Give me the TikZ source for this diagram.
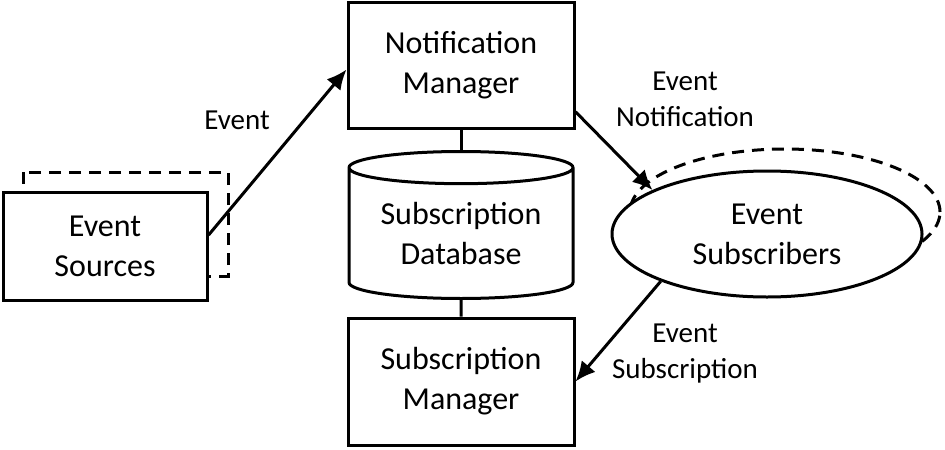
\documentclass[tikz,border=0pt]{standalone}
\usepackage{fontspec}
\setmainfont{Carlito}
\usetikzlibrary{shapes.geometric,arrows.meta,positioning}

\begin{document}
\begin{tikzpicture}
                    [x=0.5pt,y=-0.5pt,>={Latex[length=10pt,width=9pt]},
                    box/.style={draw,line width=1.5pt,fill=white,align=center,inner sep=0pt,
                                font=\fontsize{16}{20}\selectfont},
                    shadow/.style={draw,line width=1.5pt,dash pattern=on 6pt off 4pt},
                    msg/.style={align=center,font=\fontsize{14.5}{18}\selectfont},
                    flow/.style={line width=1.5pt,->}]

                    \useasboundingbox (0,0) rectangle (945,449);

                    % dashed copies behind the sources and subscribers
                    \draw[shadow] (23,172) rectangle (228,276);
                    \node[shadow,ellipse,minimum width=155pt,minimum height=63pt] (subcopy) at (785,212) {};

                    \node[box,minimum width=102pt,minimum height=54pt] (src) at (105,246) {Event\\Sources};
                    \node[box,minimum width=113pt,minimum height=62.5pt] (nm) at (461,65.5) {Notification\\Manager};
                    \node[box,cylinder,shape border rotate=90,aspect=0.2,anchor=north,
                          minimum width=112pt,minimum height=73.5pt] (db) at (461,150) {Subscription\\Database};
                    \node[box,minimum width=113pt,minimum height=63.5pt] (sm) at (461,381.5) {Subscription\\Manager};
                    \node[box,ellipse,minimum width=155pt,minimum height=63pt] (sub) at (767,234) {Event\\Subscribers};

                    \draw[line width=1.5pt] (nm.south) -- (db.north);
                    \draw[line width=1.5pt] (db.south) -- (sm.north);

                    \draw[flow] (src.6) -- (nm.182);
                    \draw[flow] (nm.-22) -- (sub.159);
                    \draw[flow] (sub.204) -- (sm.east);

                    \node[msg] (evlbl) at (237,120) {Event};
                    \node[msg] (notlbl) at (685,99) {Event\\Notification};
                    \node[msg] (sublbl) at (685,354) {Event\\Subscription};
                \end{tikzpicture}
\end{document}
